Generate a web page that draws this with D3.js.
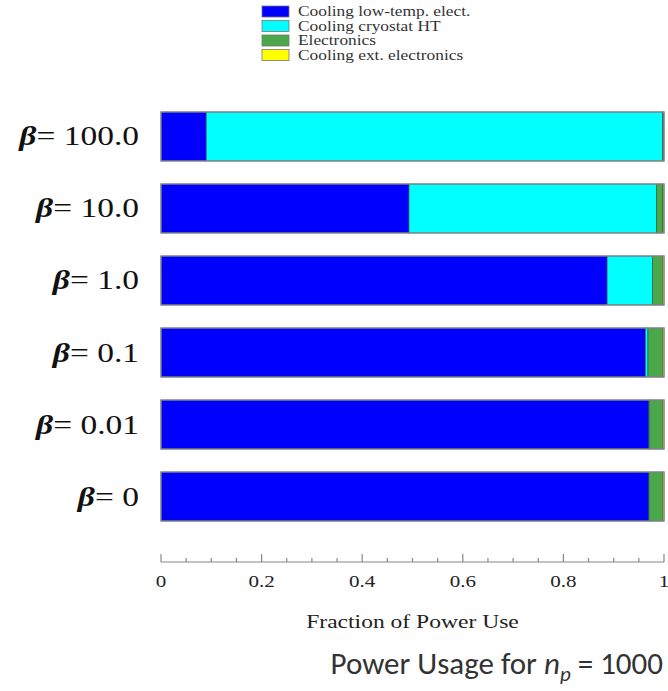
<!DOCTYPE html>
<html><head><meta charset="utf-8">
<script src="https://cdn.jsdelivr.net/npm/d3@7"></script>
<style>body{margin:0;background:#fff}svg{display:block}.serif{font-family:"Liberation Serif","Times New Roman",Times,serif}</style>
</head><body>
<script>
const categories = ["100.0","10.0","1.0","0.1","0.01","0"];
const seriesNames = ["Cooling low-temp. elect.","Cooling cryostat HT","Electronics","Cooling ext. electronics"];
const seriesColors = ["#0000ff","#00ffff","#4aa84a","#ffff00"];
const coolingLowTemp = [0.090,0.493,0.887,0.963,0.970,0.970];
const coolingCryoHT  = [0.907,0.492,0.090,0.005,0.0005,0.0];
const electronics    = [0.002,0.013,0.020,0.029,0.0265,0.027];
const coolingExt     = [0.001,0.002,0.003,0.003,0.003,0.003];
const xTicks = [0,0.2,0.4,0.6,0.8,1];
const xTickLabels = ["0","0.2","0.4","0.6","0.8","1"];

const W=668,H=691, SX=1.24;
const svg=d3.select("body").append("svg").attr("width",W).attr("height",H);
const x=d3.scaleLinear().domain([0,1]).range([161,664]);
const y=d3.scaleBand().domain(categories).range([112,521]).paddingInner(0.32).paddingOuter(0);

const stackData=categories.map((c,i)=>{const v=[coolingLowTemp[i],coolingCryoHT[i],electronics[i],coolingExt[i]];const o={cat:c};seriesNames.forEach((s,j)=>o[s]=v[j]);return o;});
const stack=d3.stack().keys(seriesNames)(stackData);

// bars
const g=svg.append("g");
stack.forEach((layer,j)=>{
  g.selectAll(null).data(layer).enter().append("rect")
   .attr("x",d=>x(d[0])).attr("y",d=>y(d.data.cat))
   .attr("width",d=>Math.max(0,x(d[1])-x(d[0]))).attr("height",y.bandwidth())
   .attr("fill",seriesColors[j]).attr("stroke",d=>(d[1]-d[0])>0?"#2a4a4a":"none").attr("stroke-width",0.8).attr("stroke-opacity",0.7);
});
g.selectAll(null).data(categories).enter().append("rect")
 .attr("x",x(0)).attr("y",d=>y(d)).attr("width",x(1)-x(0)).attr("height",y.bandwidth())
 .attr("fill","none").attr("stroke","#888").attr("stroke-width",1.3);

// category labels
categories.forEach(c=>{
  const t=svg.append("text").attr("class","serif").attr("font-size",27)
   .attr("transform",`translate(139,${y(c)+y.bandwidth()/2+9}) scale(${SX},1)`)
   .attr("text-anchor","end").attr("fill","#111");
  t.append("tspan").attr("font-weight","bold").attr("font-style","italic").text("β");
  t.append("tspan").text("= "+c);
});

// axis
const axY=562;
const ax=svg.append("g").attr("transform",`translate(0,${axY})`);
ax.append("line").attr("x1",x(0)).attr("x2",x(1)).attr("stroke","#888").attr("stroke-width",1.2);
const minor=d3.range(0,1.0001,0.05);
ax.selectAll(null).data(minor).enter().append("line")
 .attr("x1",d=>x(d)).attr("x2",d=>x(d)).attr("y1",0)
 .attr("y2",(d)=>xTicks.some(t=>Math.abs(t-d)<1e-9)?-8:-4)
 .attr("stroke","#888").attr("stroke-width",1.2);
ax.selectAll(null).data(xTicks).enter().append("text").attr("class","serif")
 .attr("transform",d=>`translate(${x(d)},25) scale(${SX},1)`).attr("text-anchor","middle")
 .attr("font-size",17).attr("fill","#222")
 .text((d,i)=>xTickLabels[i]);
svg.append("text").attr("class","serif").attr("transform",`translate(${x(0.5)},628) scale(${SX},1)`).attr("text-anchor","middle")
 .attr("font-size",19).attr("fill","#222")
 .text("Fraction of Power Use");

// legend
seriesNames.forEach((s,i)=>{
  const yy=6+i*14.5;
  svg.append("rect").attr("x",262).attr("y",yy).attr("width",27).attr("height",11).attr("fill",seriesColors[i]).attr("stroke","#777").attr("stroke-width",0.8);
  svg.append("text").attr("class","serif").attr("font-size",14).attr("fill","#333")
   .attr("transform",`translate(298,${yy+10}) scale(${SX},1)`).text(s);
});

// title
const tt=svg.append("text").attr("x",663).attr("y",674).attr("text-anchor","end")
 .attr("font-family","Carlito,'Open Sans','Noto Sans',sans-serif").attr("font-size",31).attr("fill","#333");
tt.append("tspan").text("Power Usage for ");
tt.append("tspan").attr("font-style","italic").text("n");
tt.append("tspan").attr("font-style","italic").attr("font-size",21).attr("dy",7).text("p");
tt.append("tspan").attr("dy",-7).text(" = 1000");
</script>
</body></html>
